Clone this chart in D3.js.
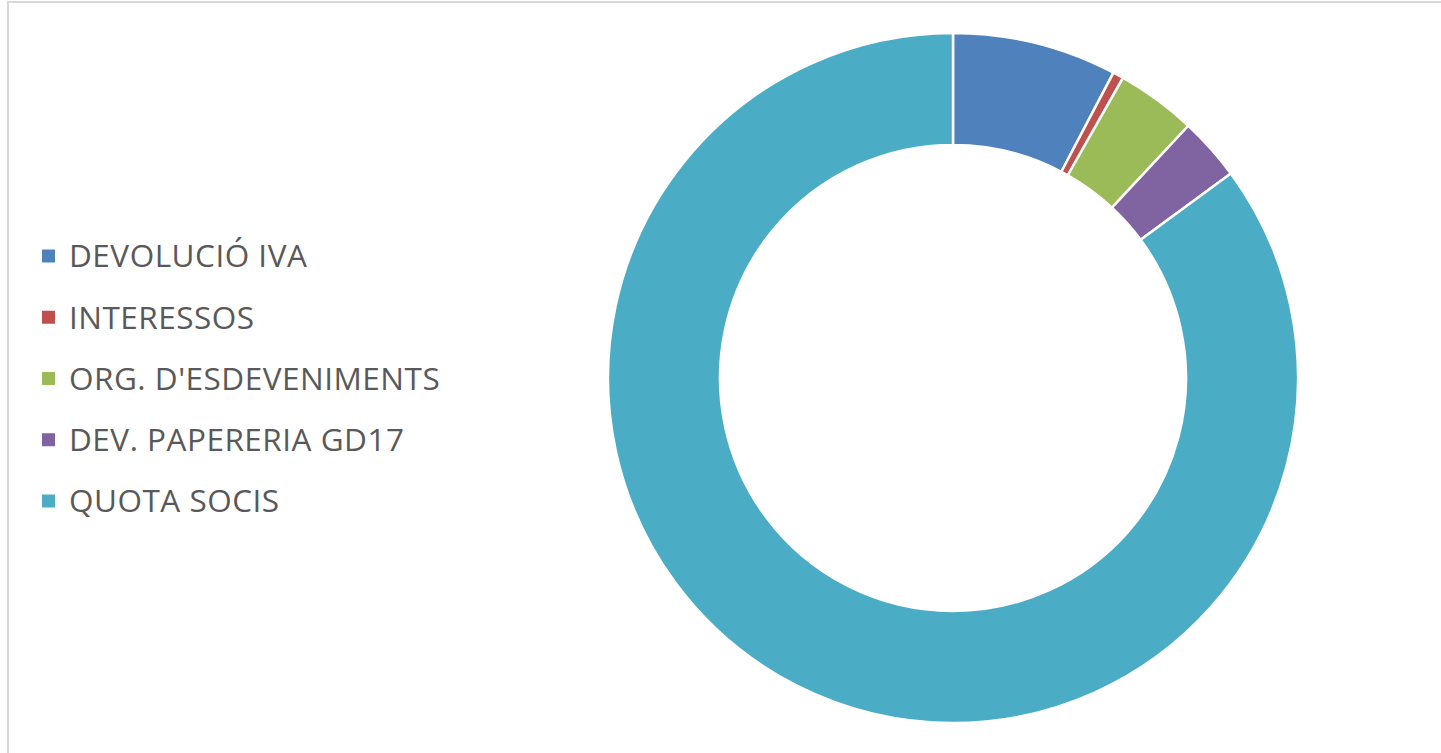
<!DOCTYPE html>
<html>
<head>
<meta charset="utf-8">
<script src="https://cdn.jsdelivr.net/npm/d3@7"></script>
<style>
html,body{margin:0;padding:0;background:#fff;}
svg{display:block;}
</style>
</head>
<body>
<svg id="chart" width="1441" height="753"></svg>
<script>
const categories = ["DEVOLUCIÓ IVA", "INTERESSOS", "ORG. D'ESDEVENIMENTS", "DEV. PAPERERIA GD17", "QUOTA SOCIS"];
const values = [7.7, 0.5, 3.75, 2.95, 85.1];
const colors = ["#4F81BD", "#C0504D", "#9BBB59", "#8064A2", "#4BACC6"];

const svg = d3.select("#chart");
const W = 1441, H = 753;

// chart area border
svg.append("rect").attr("x", 8).attr("y", 2).attr("width", W + 10).attr("height", H + 10)
  .attr("fill", "#fff").attr("stroke", "#d9d9d9").attr("stroke-width", 2);

const cx = 953, cy = 378, R = 345, r = 233;
const data = categories.map((c, i) => ({name: c, value: values[i]}));
const pie = d3.pie().value(d => d.value).sort(null);
const arc = d3.arc().innerRadius(r).outerRadius(R);
const color = d3.scaleOrdinal().domain(categories).range(colors);

svg.append("g").attr("transform", `translate(${cx},${cy})`)
  .selectAll("path").data(pie(data)).join("path")
  .attr("d", arc)
  .attr("fill", d => color(d.data.name))
  .attr("stroke", "#fff").attr("stroke-width", 2.5).attr("stroke-linejoin", "round");

// legend
const ly = d3.scalePoint().domain(categories).range([256, 501]);
const lg = svg.append("g").selectAll("g").data(categories).join("g")
  .attr("transform", d => `translate(0,${ly(d)})`);
lg.append("rect").attr("x", 42).attr("y", -6.5).attr("width", 13).attr("height", 13)
  .attr("fill", d => color(d));
lg.append("text").attr("x", 69).attr("y", 0).attr("dy", "0.36em")
  .attr("font-family", "'Open Sans', sans-serif").attr("font-size", 31.5)
  .attr("letter-spacing", 0.5)
  .attr("fill", "#595959").text(d => d);
</script>
</body>
</html>
